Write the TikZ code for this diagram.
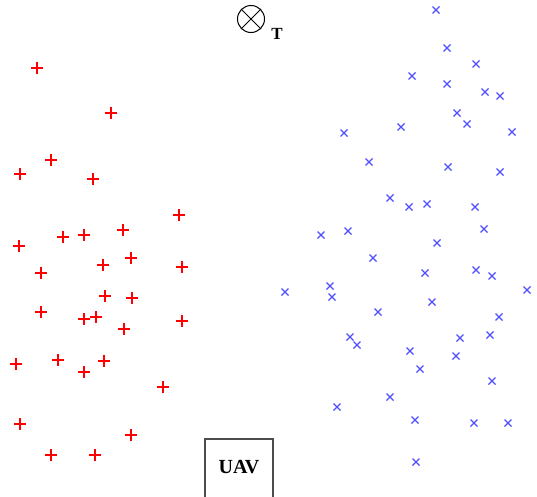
\documentclass[tikz,border=0pt]{standalone}
\usepackage{fontspec}
\setmainfont{Liberation Serif}
\definecolor{plusred}{RGB}{255,0,0}
\definecolor{xblue}{RGB}{80,80,255}
\begin{document}
\begin{tikzpicture}[x=1pt,y=-1pt,
  plusmark/.style={plusred,line width=1.2pt},
  xmark/.style={xblue,line width=1.1pt},
  uavbox/.style={draw=black!70,line width=1.4pt,minimum width=68pt,minimum height=66pt,inner sep=0pt},
  uavtext/.style={font=\fontsize{20}{24}\selectfont\bfseries,inner sep=0pt},
  tgt/.style={draw=black,line width=1pt,circle,minimum size=27pt,inner sep=0pt},
  tlabel/.style={font=\fontsize{17}{20}\selectfont\bfseries,inner sep=0pt}]
\useasboundingbox (0,0) rectangle (537,496);
\clip (0,0) rectangle (537,496);
\fill[white] (0,0) rectangle (537,496);
% red plus markers
\foreach \px/\py in {37/68,111/113,51/160,20/174,93/179,179/215,19/246,63/237,84/235,123/230,
  41/273,103/265,131/258,182/267,105/296,132/298,41/312,84/319,96/317,124/329,182/321,
  16/364,58/360,104/361,84/372,163/387,20/424,131/435,51/455,95/455}
  \draw[plusmark] (\px-6,\py) -- (\px+6,\py) (\px,\py-6) -- (\px,\py+6);
% blue x markers
\foreach \px/\py in {436/10,447/48,476/64,412/76,447/84,485/92,500/96,457/113,467/124,512/132,
  401/127,344/133,369/162,448/167,500/172,390/198,409/207,427/204,475/207,484/229,321/235,
  348/231,437/243,373/258,425/273,476/270,492/276,527/290,285/292,330/286,332/297,432/302,
  378/312,499/317,350/337,357/345,460/338,490/335,410/351,456/356,420/369,492/381,390/397,
  337/407,415/420,474/423,508/423,416/462}
  \draw[xmark] (\px-3.5,\py-3.5) -- (\px+3.5,\py+3.5) (\px-3.5,\py+3.5) -- (\px+3.5,\py-3.5);
% target
\node[tgt] (target) at (251,19) {};
\draw[line width=0.9pt] (target.north west) -- (target.south east) (target.north east) -- (target.south west);
\node[tlabel] (tl) at (277,34) {T};
% UAV
\node[uavbox] (uav) at (239,472) {};
\node[uavtext] (uavlabel) at (239,467) {UAV};
\end{tikzpicture}
\end{document}
